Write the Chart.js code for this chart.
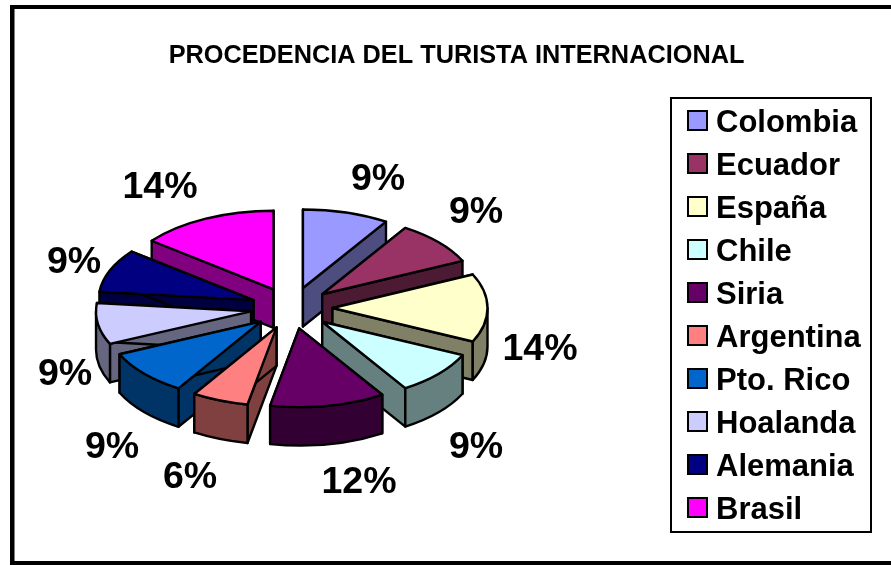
<!DOCTYPE html>
<html><head><meta charset="utf-8">
<style>html,body{margin:0;padding:0;background:#fff}canvas{display:block}</style>
<script src="https://cdn.jsdelivr.net/npm/chart.js@4"></script>
</head><body><canvas id="c" width="891" height="565"></canvas>
<script>
const titleText = 'PROCEDENCIA DEL TURISTA INTERNACIONAL';
const categories = ['Colombia','Ecuador','España','Chile','Siria','Argentina','Pto. Rico','Hoalanda','Alemania','Brasil'];
const shares = [9,9,14,9,12,5.9,9.3,8.5,8.9,14.4];
const topColors = ['#9999FF','#993366','#FFFFCC','#CCFFFF','#660066','#FF8080','#0066CC','#CCCCFF','#000080','#FF00FF'];
const sideColors = ['#4D4D80','#4D1A33','#808066','#668080','#330033','#804040','#003366','#666680','#000040','#800080'];
const labelAnchors = [[378,180],[476,213],[540,350],[476,448],[359,483],[190,478],[112,448],[65,375],[74,263],[160,188]];

const FONT = '"Liberation Sans", Arial, sans-serif';
const PIE = {cx:291.5, cy:308, squash:0.507, depth:38.5};

const pie3d = {
  id:'pie3d',
  afterLayout(chart){
    const l = chart.legend, w = l.width, h = l.height;
    l.left = 675; l.right = 675 + w; l.top = 95.5; l.bottom = 95.5 + h;
  },
  beforeDraw(chart){
    const c = chart.ctx;
    c.save();
    c.fillStyle = '#fff'; c.fillRect(0,0,chart.width,chart.height);
    c.fillStyle = '#000';
    c.fillRect(10,5,chart.width-10,4);
    c.fillRect(10,5,4.5,chart.height-5);
    c.fillRect(10,561,chart.width-10,4);
    c.lineWidth = 2; c.strokeStyle = '#000';
    c.strokeRect(671,98,200,434);
    c.restore();
  },
  beforeDatasetDraw(chart, args){
    const c = chart.ctx, arcs = args.meta.data;
    const slices = arcs.map((a,i)=>{
      const s = a.startAngle, e = a.endAngle, m = (s+e)/2, d = a.options.offset;
      const rx = a.outerRadius, ry = rx*PIE.squash;
      return {i,s,e,m,rx,ry,
        x:PIE.cx + d*Math.cos(m),
        y:PIE.cy + d*PIE.squash*Math.sin(m)};
    }).sort((p,q)=>p.y-q.y);
    c.save();
    c.lineWidth = 2.4; c.strokeStyle = '#000'; c.lineJoin = 'round';
    const pt = (p,ang)=>[p.x+p.rx*Math.cos(ang), p.y+p.ry*Math.sin(ang)];
    for(const p of slices){
      const D = PIE.depth;
      c.fillStyle = sideColors[p.i];
      for(const ang of [p.s,p.e]){
        const [ox,oy] = pt(p,ang);
        c.beginPath();
        c.moveTo(p.x,p.y); c.lineTo(ox,oy); c.lineTo(ox,oy+D); c.lineTo(p.x,p.y+D); c.closePath();
        c.fill(); c.stroke();
      }
      // outer curved wall: only the part of the rim facing the viewer
      for(const k of [0,2]){
        const lo = Math.max(p.s, k*Math.PI), hi = Math.min(p.e, (k+1)*Math.PI);
        if(hi<=lo) continue;
        c.beginPath();
        c.ellipse(p.x,p.y,p.rx,p.ry,0,lo,hi);
        c.ellipse(p.x,p.y+D,p.rx,p.ry,0,hi,lo,true);
        c.closePath();
        c.fill(); c.stroke();
      }
      c.fillStyle = topColors[p.i];
      c.beginPath();
      c.moveTo(p.x,p.y);
      c.ellipse(p.x,p.y,p.rx,p.ry,0,p.s,p.e);
      c.closePath();
      c.fill(); c.stroke();
    }
    c.restore();
    return false;
  },
  afterDraw(chart){
    const c = chart.ctx;
    c.save();
    c.lineWidth = 2; c.strokeStyle = '#000';
    chart.legend.legendHitBoxes.forEach((b,i)=>{
      const y = b.top + b.height/2;
      c.fillStyle = topColors[i];
      c.fillRect(688,y-12,19,19);
      c.strokeRect(688,y-12,19,19);
    });
    c.fillStyle = '#000';
    c.font = 'bold 37.5px '+FONT;
    c.textAlign = 'center'; c.textBaseline = 'middle';
    shares.forEach((v,i)=>c.fillText(Math.round(v)+'%',labelAnchors[i][0],labelAnchors[i][1]));
    c.restore();
  }
};

new Chart(document.getElementById('c'),{
  type:'pie',
  data:{labels:categories,datasets:[{data:shares,backgroundColor:topColors,borderWidth:0,offset:41}]},
  plugins:[pie3d],
  options:{
    responsive:false,animation:false,events:[],
    radius:155,
    layout:{padding:{left:22}},
    plugins:{
      tooltip:{enabled:false},
      title:{display:true,text:titleText,color:'#000',
        font:{family:FONT,size:25.3,weight:'bold'},padding:{top:41,bottom:0}},
      legend:{display:true,position:'right',align:'start',
        labels:{color:'#000',boxWidth:13.5,boxHeight:13,padding:12,
          font:{family:FONT,size:31,weight:'bold'}}}
    }
  }
});
</script></body></html>
